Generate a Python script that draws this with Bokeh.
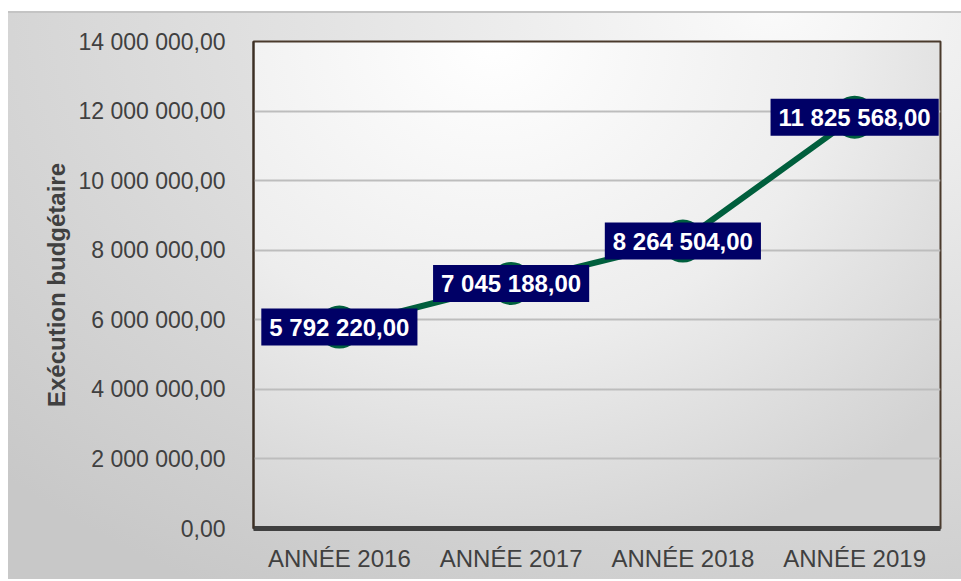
from bokeh.plotting import figure
from bokeh.models import Range1d, FactorRange, CustomJSTickFormatter, FixedTicker, Label, ColumnDataSource
from bokeh.embed import file_html
from bokeh.resources import INLINE

years = ["ANNÉE 2016", "ANNÉE 2017", "ANNÉE 2018", "ANNÉE 2019"]
execution = [5792220.00, 7045188.00, 8264504.00, 11825568.00]
y_ticks = [0, 2000000, 4000000, 6000000, 8000000, 10000000, 12000000, 14000000]

FONT = "Liberation Sans"
GREEN = "#005f3d"
NAVY = "#000066"
TXT = "#404040"


def fmt(v):
    s = f"{v:,.2f}"
    ip, dp = s.split(".")
    return ip.replace(",", " ") + "," + dp


src = ColumnDataSource(dict(x=years, y=execution))

p = figure(
    width=953, height=568,
    x_range=FactorRange(factors=years, range_padding=0),
    y_range=Range1d(0, 14000000),
    output_backend="svg", toolbar_location=None,
    min_border_left=245, min_border_right=21, min_border_top=30, min_border_bottom=51,
)
p.margin = (11, 0, 0, 8)

# transparent canvas fills; gradients painted by CSS behind the canvas
p.border_fill_alpha = 0
p.background_fill_alpha = 0
p.styles = {
    "background": (
        "radial-gradient(ellipse 90% 110% at 35% 0%, #ffffff 0%, #ededed 55%, #d2d2d2 100%) "
        "245px 30px / 687px 487px no-repeat, "
        "radial-gradient(ellipse 110% 120% at 80% 0%, #fafafa 0%, #e2e2e2 45%, #c8c8c8 100%)"
    ),
    "box-shadow": "inset 0 2px 0 0 #c4c4c4",
}
p.outline_line_color = "#4a3a2c"
p.outline_line_width = 2

p.line("x", "y", source=src, line_color=GREEN, line_width=6)
p.scatter("x", "y", source=src, size=43, fill_color=GREEN, line_color=None)

# categorical factor i is centred at synthetic coordinate i + 0.5
for i, yv in enumerate(execution):
    p.add_layout(Label(
        x=i + 0.5, y=yv, text=fmt(yv),
        text_align="center", text_baseline="middle",
        text_color="white", text_font=FONT, text_font_size="24px", text_font_style="bold",
        background_fill_color=NAVY, background_fill_alpha=1.0,
        padding=(8, 8, 5, 5),
    ))

p.yaxis.ticker = FixedTicker(ticks=y_ticks)
p.yaxis.formatter = CustomJSTickFormatter(code="""
const s = tick.toFixed(2).split('.');
return s[0].replace(/\\B(?=(\\d{3})+(?!\\d))/g, ' ') + ',' + s[1];
""")
p.yaxis.axis_label = "Exécution budgétaire"
p.yaxis.axis_label_text_font = FONT
p.yaxis.axis_label_text_font_size = "24px"
p.yaxis.axis_label_text_font_style = "bold"
p.yaxis.axis_label_text_color = TXT
p.yaxis.axis_label_standoff = 5
p.yaxis.major_label_text_font = FONT
p.yaxis.major_label_text_font_size = "23px"
p.yaxis.major_label_text_color = TXT
p.yaxis.major_label_standoff = 22
p.yaxis.major_tick_line_color = None
p.yaxis.minor_tick_line_color = None
p.yaxis.axis_line_color = "#3b2f25"
p.yaxis.axis_line_width = 2

p.xaxis.major_label_text_font = FONT
p.xaxis.major_label_text_font_size = "24px"
p.xaxis.major_label_text_color = TXT
p.xaxis.major_label_standoff = 10
p.xaxis.major_tick_line_color = None
p.xaxis.minor_tick_line_color = None
p.xaxis.axis_line_color = "#404040"
p.xaxis.axis_line_width = 5

p.xgrid.grid_line_color = None
p.ygrid.grid_line_color = "#bdbdbd"
p.ygrid.grid_line_width = 2

open("out.html", "w").write(file_html(p, INLINE))
